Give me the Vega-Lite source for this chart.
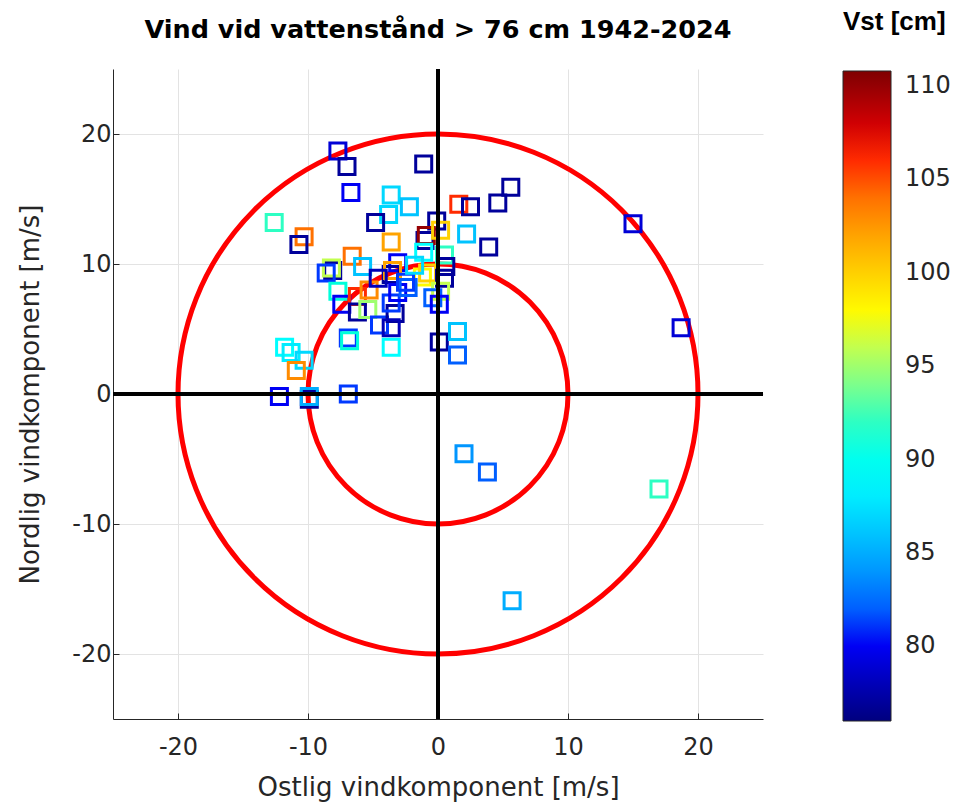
{
  "$schema": "https://vega.github.io/schema/vega-lite/v6.json",
  "width": 650,
  "height": 650,
  "autosize": {"type": "none"},
  "padding": {"left": 113, "top": 69, "right": 197, "bottom": 86},
  "background": "white",
  "config": {"view": {"stroke": null}, "font": "DejaVu Sans"},
  "title": {"text": "Vind vid vattenstånd > 76 cm 1942-2024", "font": "DejaVu Sans", "fontSize": 25.5, "fontWeight": "bold", "color": "black", "anchor": "middle", "frame": "group", "offset": -34},
  "datasets": {
    "rings": [{"cx": 0, "cy": 0, "r": 10}, {"cx": 0, "cy": 0, "r": 20}],
    "axes0": [{"zero": 0}],
    "pts": [
      {"x": -7.7, "y": 18.7, "v": 79},
      {"x": -7.0, "y": 17.5, "v": 77},
      {"x": -1.1, "y": 17.7, "v": 77},
      {"x": -6.7, "y": 15.5, "v": 80},
      {"x": -3.6, "y": 15.3, "v": 87},
      {"x": 5.6, "y": 15.9, "v": 77},
      {"x": 4.6, "y": 14.7, "v": 77},
      {"x": 1.6, "y": 14.6, "v": 106},
      {"x": 2.5, "y": 14.4, "v": 77},
      {"x": -2.2, "y": 14.4, "v": 86},
      {"x": -3.8, "y": 13.8, "v": 87},
      {"x": -4.8, "y": 13.2, "v": 77},
      {"x": -12.6, "y": 13.2, "v": 92},
      {"x": 15.0, "y": 13.1, "v": 79},
      {"x": -0.1, "y": 13.3, "v": 77},
      {"x": -10.3, "y": 12.1, "v": 104},
      {"x": -10.7, "y": 11.5, "v": 77},
      {"x": -1.0, "y": 11.8, "v": 77},
      {"x": -0.9, "y": 12.2, "v": 110},
      {"x": 0.2, "y": 12.6, "v": 100},
      {"x": 2.2, "y": 12.3, "v": 86},
      {"x": 3.9, "y": 11.3, "v": 77},
      {"x": -3.6, "y": 11.7, "v": 102},
      {"x": -6.6, "y": 10.6, "v": 104},
      {"x": -8.1, "y": 9.5, "v": 77},
      {"x": -8.2, "y": 9.7, "v": 96},
      {"x": -5.8, "y": 9.8, "v": 86},
      {"x": -1.1, "y": 10.9, "v": 89},
      {"x": 0.5, "y": 10.7, "v": 92},
      {"x": -3.1, "y": 10.1, "v": 80},
      {"x": -8.6, "y": 9.3, "v": 81},
      {"x": -3.6, "y": 9.2, "v": 77},
      {"x": -3.5, "y": 9.5, "v": 102},
      {"x": -1.2, "y": 9.0, "v": 98},
      {"x": -0.8, "y": 9.3, "v": 100},
      {"x": 0.5, "y": 8.9, "v": 77},
      {"x": 0.2, "y": 7.9, "v": 96},
      {"x": -7.7, "y": 7.9, "v": 91},
      {"x": -7.4, "y": 6.9, "v": 80},
      {"x": -6.2, "y": 7.5, "v": 106},
      {"x": -5.3, "y": 8.0, "v": 103},
      {"x": -6.2, "y": 6.3, "v": 77},
      {"x": -5.4, "y": 6.5, "v": 95},
      {"x": -4.5, "y": 5.3, "v": 81},
      {"x": -3.3, "y": 6.2, "v": 77},
      {"x": -3.6, "y": 5.1, "v": 78},
      {"x": -3.6, "y": 7.0, "v": 81},
      {"x": -3.1, "y": 7.8, "v": 80},
      {"x": -2.3, "y": 8.2, "v": 82},
      {"x": -2.5, "y": 8.6, "v": 81},
      {"x": -1.8, "y": 9.9, "v": 87},
      {"x": 0.6, "y": 9.8, "v": 77},
      {"x": -4.6, "y": 8.9, "v": 78},
      {"x": -0.4, "y": 7.4, "v": 82},
      {"x": 0.1, "y": 6.9, "v": 80},
      {"x": -6.9, "y": 4.3, "v": 81},
      {"x": -6.8, "y": 4.1, "v": 91},
      {"x": -3.6, "y": 3.6, "v": 89},
      {"x": 0.1, "y": 4.0, "v": 77},
      {"x": 1.5, "y": 4.8, "v": 86},
      {"x": 1.5, "y": 3.0, "v": 82},
      {"x": -11.8, "y": 3.6, "v": 89},
      {"x": -11.3, "y": 3.2, "v": 88},
      {"x": -10.3, "y": 2.6, "v": 87},
      {"x": -10.9, "y": 1.8, "v": 103},
      {"x": -12.2, "y": -0.2, "v": 80},
      {"x": -9.9, "y": -0.4, "v": 77},
      {"x": -9.9, "y": -0.2, "v": 85},
      {"x": -6.9, "y": 0.0, "v": 81},
      {"x": 2.0, "y": -4.6, "v": 84},
      {"x": 3.8, "y": -6.0, "v": 82},
      {"x": 17.0, "y": -7.3, "v": 92},
      {"x": 5.7, "y": -15.9, "v": 85},
      {"x": 18.7, "y": 5.1, "v": 79}
    ]
  },
  "layer": [
    {
      "data": {"name": "rings"},
      "mark": {"type": "point", "shape": "circle", "filled": false, "color": "#ff0000", "strokeWidth": 5, "opacity": 1},
      "encoding": {
        "x": {"field": "cx", "type": "quantitative", "scale": {"domain": [-25, 25], "nice": false, "zero": false}},
        "y": {"field": "cy", "type": "quantitative", "scale": {"domain": [-25, 25], "nice": false, "zero": false}},
        "size": {"field": "r", "type": "quantitative", "scale": {"type": "pow", "exponent": 2, "domain": [0, 25], "range": [0, 422500], "zero": true}, "legend": null}
      }
    },
    {
      "data": {"name": "pts"},
      "mark": {"type": "point", "shape": "square", "filled": false, "strokeWidth": 3, "size": 256, "opacity": 1},
      "encoding": {
        "x": {
          "field": "x", "type": "quantitative",
          "scale": {"domain": [-25, 25], "nice": false, "zero": false},
          "axis": {
            "title": "Ostlig vindkomponent [m/s]", "values": [-20, -10, 0, 10, 20],
            "labelExpr": "datum.value < 0 ? '-' + abs(datum.value) : '' + datum.value",
            "grid": true, "gridColor": "#e3e3e3", "gridWidth": 1,
            "domainColor": "#262626", "tickColor": "#262626", "tickSize": -6,
            "labelFontSize": 24, "labelColor": "#262626", "labelPadding": 22,
            "titleFontSize": 26, "titleFontWeight": "normal", "titleColor": "#262626", "titlePadding": 15
          }
        },
        "y": {
          "field": "y", "type": "quantitative",
          "scale": {"domain": [-25, 25], "nice": false, "zero": false},
          "axis": {
            "title": "Nordlig vindkomponent [m/s]", "values": [-20, -10, 0, 10, 20],
            "labelExpr": "datum.value < 0 ? '-' + abs(datum.value) : '' + datum.value",
            "grid": true, "gridColor": "#e3e3e3", "gridWidth": 1,
            "domainColor": "#262626", "tickColor": "#262626", "tickSize": -6,
            "labelFontSize": 24, "labelColor": "#262626", "labelPadding": 8,
            "titleFontSize": 26, "titleFontWeight": "normal", "titleColor": "#262626", "titlePadding": 28
          }
        },
        "color": {
          "field": "v", "type": "quantitative",
          "scale": {"domain": [76, 80.35, 89.05, 97.75, 106.45, 110.8], "range": ["#00007f", "#0000ff", "#00ffff", "#ffff00", "#ff0000", "#7f0000"]},
          "legend": {
            "title": "Vst [cm]", "orient": "none", "legendX": 730, "legendY": -60,
            "direction": "vertical", "gradientLength": 650, "gradientThickness": 48,
            "gradientStrokeColor": "#262626", "gradientStrokeWidth": 1,
            "values": [80, 85, 90, 95, 100, 105, 110],
            "labelFontSize": 24, "labelColor": "#262626", "labelOffset": 14,
            "titleFont": "Liberation Sans", "titleFontSize": 26, "titleFontWeight": "bold", "titleColor": "black", "titlePadding": 36,
            "titleAnchor": "start", "titleAlign": "left"
          }
        }
      }
    },
    {
      "data": {"name": "axes0"},
      "mark": {"type": "rule", "color": "black", "strokeWidth": 4},
      "encoding": {"y": {"field": "zero", "type": "quantitative"}}
    },
    {
      "data": {"name": "axes0"},
      "mark": {"type": "rule", "color": "black", "strokeWidth": 4},
      "encoding": {"x": {"field": "zero", "type": "quantitative"}}
    }
  ]
}
